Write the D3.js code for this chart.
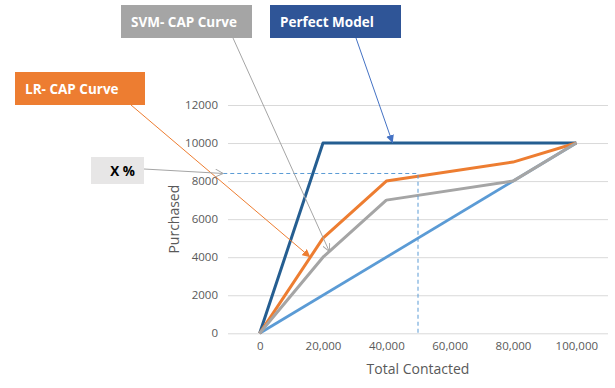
<!DOCTYPE html>
<html>
<head>
<meta charset="utf-8">
<script src="https://cdn.jsdelivr.net/npm/d3@7"></script>
<style>
  body { margin: 0; background: #fff; }
  text { font-family: "Open Sans", "Noto Sans", sans-serif; }
</style>
</head>
<body>
<div id="chart"></div>
<script>
/* DATA */
const contacted = [0, 20000, 40000, 80000, 100000];
const lrPurchased = [0, 5000, 8000, 9000, 10000];
const svmPurchased = [0, 4000, 7000, 8000, 10000];
const perfectContacted = [0, 20000, 100000];
const perfectPurchased = [0, 10000, 10000];
const randomContacted = [0, 100000];
const randomPurchased = [0, 10000];
const xTicks = [0, 20000, 40000, 60000, 80000, 100000];
const yTicks = [0, 2000, 4000, 6000, 8000, 10000, 12000];
const xPercentLevel = 8400;
const xPercentAt = 50000;

const width = 615, height = 388;

const svg = d3.select("#chart").append("svg")
  .attr("width", width)
  .attr("height", height);

// SCALES
const xScale = d3.scaleLinear().domain([-10000, 110000]).range([228, 608]);
const yScale = d3.scaleLinear().domain([0, 12000]).range([333.3, 105]);

// GRIDLINES + Y AXIS
const yAxis = d3.axisLeft(yScale)
  .tickValues(yTicks)
  .tickSize(-(xScale.range()[1] - xScale.range()[0]))
  .tickPadding(10)
  .tickFormat(d3.format("d"));

svg.append("g")
  .attr("transform", `translate(${xScale.range()[0]},0)`)
  .call(yAxis)
  .call(g => g.select(".domain").remove())
  .call(g => g.selectAll(".tick line").attr("stroke", "#d9d9d9"))
  .call(g => g.selectAll(".tick text")
    .attr("fill", "#595959").style("font-size", "11.5px"));

// X AXIS (labels only)
const xAxis = d3.axisBottom(xScale)
  .tickValues(xTicks)
  .tickSize(0)
  .tickPadding(9)
  .tickFormat(d3.format(","));

svg.append("g")
  .attr("transform", `translate(0,${yScale(0)})`)
  .call(xAxis)
  .call(g => g.select(".domain").remove())
  .call(g => g.selectAll(".tick text")
    .attr("fill", "#595959").style("font-size", "11.5px"));

// AXIS TITLES
svg.append("text")
  .attr("x", xScale(50000))
  .attr("y", 374)
  .attr("text-anchor", "middle")
  .attr("fill", "#595959")
  .style("font-size", "14px")
  .text("Total Contacted");

svg.append("text")
  .attr("transform", `translate(179, ${yScale(6000)}) rotate(-90)`)
  .attr("text-anchor", "middle")
  .attr("fill", "#595959")
  .style("font-size", "14px")
  .text("Purchased");

// LINES
const line = d3.line().x(d => xScale(d[0])).y(d => yScale(d[1]));

const series = [
  { xs: randomContacted, ys: randomPurchased, color: "#5b9bd5", w: 2.75 },
  { xs: perfectContacted, ys: perfectPurchased, color: "#255e91", w: 3 },
  { xs: contacted, ys: lrPurchased, color: "#ed7d31", w: 3 },
  { xs: contacted, ys: svmPurchased, color: "#a5a5a5", w: 3 }
];

svg.selectAll(".series")
  .data(series)
  .join("path")
    .attr("class", "series")
    .attr("fill", "none")
    .attr("stroke", d => d.color)
    .attr("stroke-width", d => d.w)
    .attr("stroke-linejoin", "round")
    .attr("d", d => line(d.xs.map((x, i) => [x, d.ys[i]])));

// DASHED GUIDE LINES
svg.append("path")
  .attr("fill", "none")
  .attr("stroke", "#5b9bd5")
  .attr("stroke-width", 1)
  .attr("stroke-dasharray", "4,3")
  .attr("d", line([[-11500, xPercentLevel], [xPercentAt, xPercentLevel], [xPercentAt, 0]]));

// ANNOTATIONS
const defs = svg.append("defs");
function marker(id, color, open) {
  const m = defs.append("marker")
    .attr("id", id)
    .attr("viewBox", "0 0 10 10")
    .attr("refX", 10).attr("refY", 5)
    .attr("markerWidth", 8).attr("markerHeight", 8)
    .attr("markerUnits", "userSpaceOnUse")
    .attr("orient", "auto");
  if (open) {
    m.append("path").attr("d", "M0,0 L10,5 L0,10")
      .attr("fill", "none").attr("stroke", color).attr("stroke-width", 1.2);
  } else {
    m.append("path").attr("d", "M0,0 L10,5 L0,10 Z").attr("fill", color);
  }
}
marker("arr-gray", "#a5a5a5", true);
marker("arr-blue", "#4472c4", false);
marker("arr-orange", "#ed7d31", false);

const callouts = [
  { label: "SVM- CAP Curve", x: 121, y: 5, w: 131, h: 33, fill: "#a5a5a5", txt: "#fff",
    from: [233, 38], to: [xScale(22000), yScale(4300)], stroke: "#a5a5a5", arrow: "arr-gray" },
  { label: "Perfect Model", x: 270, y: 5, w: 131, h: 33, fill: "#2f5597", txt: "#fff",
    from: [356, 38], to: [xScale(42000), yScale(10000)], stroke: "#4472c4", arrow: "arr-blue" },
  { label: "LR- CAP Curve", x: 15, y: 72, w: 130, h: 33, fill: "#ed7d31", txt: "#fff",
    from: [131, 105], to: [xScale(16000), yScale(4000)], stroke: "#ed7d31", arrow: "arr-orange" },
  { label: "X %", x: 91, y: 157, w: 53, h: 27, fill: "#e7e6e6", txt: "#000",
    from: [144, 169], to: [xScale(-11500), yScale(xPercentLevel)], stroke: "#a5a5a5", arrow: "arr-gray" }
];

svg.selectAll(".callout-line")
  .data(callouts)
  .join("line")
    .attr("class", "callout-line")
    .attr("x1", d => d.from[0]).attr("y1", d => d.from[1])
    .attr("x2", d => d.to[0]).attr("y2", d => d.to[1])
    .attr("stroke", d => d.stroke)
    .attr("stroke-width", 1)
    .attr("marker-end", d => `url(#${d.arrow})`);

const box = svg.selectAll(".callout")
  .data(callouts)
  .join("g")
    .attr("class", "callout");

box.append("rect")
  .attr("x", d => d.x).attr("y", d => d.y)
  .attr("width", d => d.w).attr("height", d => d.h)
  .attr("fill", d => d.fill);

box.append("text")
  .attr("x", d => d.label === "X %" ? d.x + d.w / 2 + 5 : d.x + 10)
  .attr("y", d => d.y + d.h / 2 + 5)
  .attr("text-anchor", d => d.label === "X %" ? "middle" : "start")
  .attr("fill", d => d.txt)
  .style("font-size", "13.5px")
  .style("font-weight", "bold")
  .text(d => d.label);
</script>
</body>
</html>
